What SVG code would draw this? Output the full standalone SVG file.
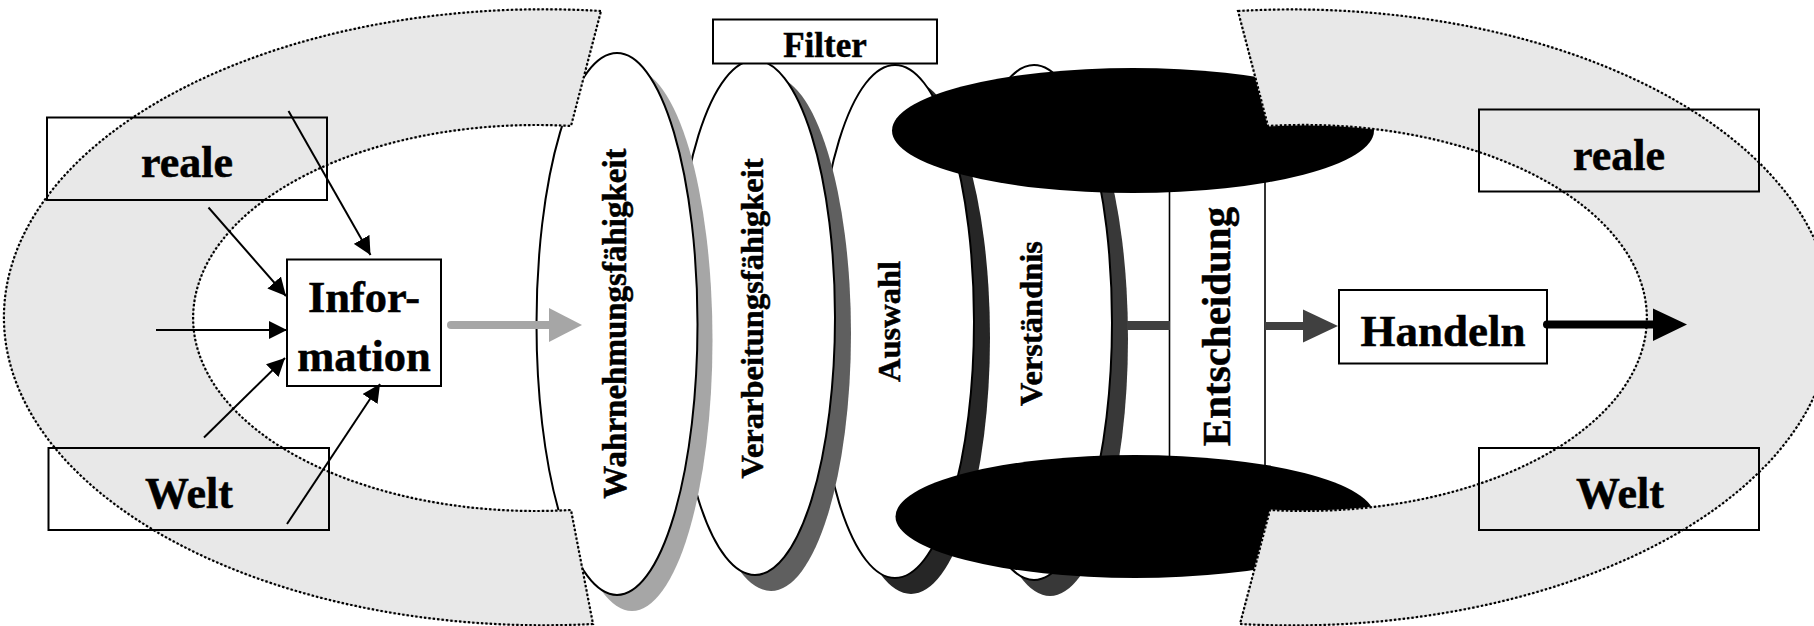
<svg xmlns="http://www.w3.org/2000/svg" width="1814" height="626" viewBox="0 0 1814 626">
  <defs>
    <style>
      .lbl { font-family: "Liberation Serif", "Times New Roman", serif; font-weight: bold; fill: #000; stroke: #000; stroke-width: 0.5; }
      .box { fill: none; stroke: #000; stroke-width: 2; }
      .wbox { fill: #fff; stroke: #000; stroke-width: 2; }
      .disc { fill: #fff; stroke: #000; stroke-width: 2; }
      .ring { fill: #e8e8e8; stroke: none; }
      .ring-base { fill: none; stroke: #c4c4c4; stroke-width: 1; }
      .ring-dots { fill: none; stroke: #000; stroke-width: 2.2; stroke-dasharray: 2.4 2; }
      .thin { stroke: #000; stroke-width: 2; fill: none; }
    </style>
    <marker id="head" markerUnits="userSpaceOnUse" markerWidth="18" markerHeight="18" refX="18" refY="9" orient="auto">
      <path d="M0,0 L18,9 L0,18 Z" fill="#000"/>
    </marker>
  </defs>

  <rect x="0" y="0" width="1814" height="626" fill="#fff"/>

  <!-- filter discs, back to front -->
  <g id="verstaendnis">
    <ellipse cx="1050" cy="338.5" rx="78" ry="257.5" fill="#383838"/>
    <ellipse class="disc" cx="1034" cy="322.5" rx="78" ry="257.5"/>
    <text class="lbl" font-size="32.5" text-anchor="middle" transform="translate(1042,323.5) rotate(-90)">Verständnis</text>
  </g>

  <g id="auswahl">
    <ellipse cx="911" cy="337.5" rx="79" ry="256.5" fill="#262626"/>
    <ellipse class="disc" cx="895" cy="321.5" rx="79" ry="256.5"/>
    <text class="lbl" font-size="32.5" text-anchor="middle" transform="translate(900,321.5) rotate(-90)">Auswahl</text>
  </g>

  <g id="verarbeitung">
    <ellipse cx="771" cy="333.5" rx="80" ry="257.5" fill="#5f5f5f"/>
    <ellipse class="disc" cx="755" cy="317.5" rx="80" ry="257.5"/>
    <text class="lbl" font-size="32.5" text-anchor="middle" transform="translate(763,318.5) rotate(-90)">Verarbeitungsfähigkeit</text>
  </g>

  <g id="wahrnehmung">
    <ellipse cx="632" cy="340" rx="80.5" ry="271" fill="#a6a6a6"/>
    <ellipse class="disc" cx="617" cy="324" rx="80.5" ry="271"/>
    <text class="lbl" font-size="33" text-anchor="middle" transform="translate(626,323.5) rotate(-90)">Wahrnehmungsfähigkeit</text>
  </g>

  <g id="entscheidung">
    <rect x="1169.5" y="160" width="95.5" height="320" fill="#fff" stroke="#000" stroke-width="1.6"/>
    <text class="lbl" font-size="41" text-anchor="middle" transform="translate(1230,326.5) rotate(-90)">Entscheidung</text>
  </g>

  <!-- black caps above and below the decision column -->
  <g id="caps">
    <ellipse cx="1133" cy="130.5" rx="241" ry="62.5" fill="#000"/>
    <ellipse cx="1135" cy="516.5" rx="239.5" ry="61.5" fill="#000"/>
  </g>

  <g id="filter">
    <rect class="wbox" x="713" y="19.5" width="224" height="44"/>
    <text class="lbl" font-size="35" text-anchor="middle" x="825" y="57">Filter</text>
  </g>

  <!-- the surrounding world, drawn as two block arcs -->
  <g id="ring-left">
    <path class="ring" d="M601,11 A540 308 0 1 0 593,624 L571,510 A343 193 0 1 1 571,126 Z"/>
    <path class="ring-base" d="M601,11 A540 308 0 1 0 593,624 L571,510 A343 193 0 1 1 571,126 Z"/>
    <path class="ring-dots" d="M601,11 A540 308 0 1 0 593,624 L571,510 A343 193 0 1 1 571,126 Z"/>
  </g>
  <g id="ring-right">
    <path class="ring" d="M1238,11 A540 308 0 1 1 1240,624 L1270,510 A343 193 0 1 0 1268,126 Z"/>
    <path class="ring-base" d="M1238,11 A540 308 0 1 1 1240,624 L1270,510 A343 193 0 1 0 1268,126 Z"/>
    <path class="ring-dots" d="M1238,11 A540 308 0 1 1 1240,624 L1270,510 A343 193 0 1 0 1268,126 Z"/>
  </g>

  <g id="reale-left">
    <rect class="box" x="47" y="117.5" width="280" height="82.5"/>
    <text class="lbl" font-size="44" text-anchor="middle" x="187" y="177">reale</text>
  </g>
  <g id="welt-left">
    <rect class="box" x="48.5" y="448" width="280.5" height="82"/>
    <text class="lbl" font-size="44" text-anchor="middle" x="189" y="507.5">Welt</text>
  </g>
  <g id="reale-right">
    <rect class="box" x="1479" y="109.5" width="280" height="82"/>
    <text class="lbl" font-size="44" text-anchor="middle" x="1619" y="170">reale</text>
  </g>
  <g id="welt-right">
    <rect class="box" x="1479" y="448" width="280" height="82"/>
    <text class="lbl" font-size="44" text-anchor="middle" x="1620" y="507.5">Welt</text>
  </g>

  <g id="information">
    <rect class="wbox" x="287" y="259.5" width="154" height="126.5"/>
    <text class="lbl" font-size="44.5" text-anchor="middle" x="364" y="312">Infor-</text>
    <text class="lbl" font-size="44.5" text-anchor="middle" x="364" y="371">mation</text>
  </g>

  <g id="handeln">
    <rect class="wbox" x="1339" y="290" width="208" height="73.5"/>
    <text class="lbl" font-size="45" text-anchor="middle" x="1443" y="346">Handeln</text>
  </g>

  <g id="connectors">
    <!-- inputs from the world into the information box -->
    <line class="thin" x1="288.5" y1="111" x2="370.5" y2="255" marker-end="url(#head)"/>
    <line class="thin" x1="208.5" y1="207.5" x2="286" y2="296" marker-end="url(#head)"/>
    <line class="thin" x1="156" y1="330" x2="287" y2="330" marker-end="url(#head)"/>
    <line class="thin" x1="204" y1="437.5" x2="285" y2="358" marker-end="url(#head)"/>
    <line class="thin" x1="287" y1="524" x2="380" y2="384" marker-end="url(#head)"/>

    <!-- information into perception -->
    <line x1="451" y1="325" x2="551" y2="325" stroke="#a6a6a6" stroke-width="8" stroke-linecap="round"/>
    <path d="M549,308 L582,325 L549,342 Z" fill="#a6a6a6"/>

    <!-- understanding to decision -->
    <line x1="1127" y1="325.5" x2="1170" y2="325.5" stroke="#404040" stroke-width="9"/>

    <!-- decision to action -->
    <line x1="1265" y1="326" x2="1305" y2="326" stroke="#404040" stroke-width="8"/>
    <path d="M1303,309.5 L1338,326 L1303,342.5 Z" fill="#404040"/>

    <!-- action out into the world -->
    <line x1="1547" y1="324.5" x2="1655" y2="324.5" stroke="#000" stroke-width="8" stroke-linecap="round"/>
    <path d="M1653,308.5 L1687,324.5 L1653,341 Z" fill="#000"/>
  </g>
</svg>
